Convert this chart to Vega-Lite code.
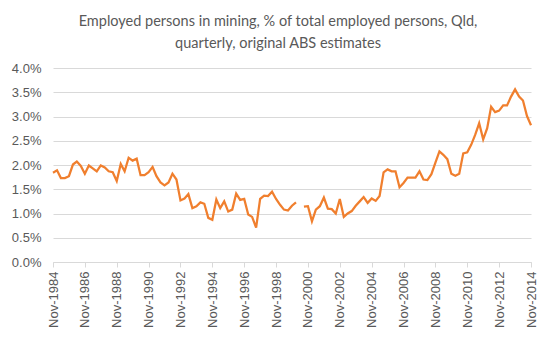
{
  "$schema": "https://vega.github.io/schema/vega-lite/v6.json",
  "width": 478,
  "height": 194,
  "autosize": "none",
  "padding": {"left": 53, "top": 68, "right": 26, "bottom": 93},
  "background": "white",
  "title": {
    "text": ["Employed persons in mining, % of total employed  persons, Qld,", "quarterly, original ABS estimates"],
    "font": "Lato",
    "fontSize": 14.5,
    "fontWeight": "normal",
    "color": "#595959",
    "lineHeight": 22,
    "anchor": "middle",
    "dx": -14,
    "offset": 11
  },
  "config": {"view": {"stroke": null}},
  "data": {
    "values": [
      {"d":"1984-11-01","v":1.84},{"d":"1985-02-01","v":1.89},{"d":"1985-05-01","v":1.73},{"d":"1985-08-01","v":1.73},
      {"d":"1985-11-01","v":1.77},{"d":"1986-02-01","v":2.01},{"d":"1986-05-01","v":2.07},{"d":"1986-08-01","v":1.98},
      {"d":"1986-11-01","v":1.82},{"d":"1987-02-01","v":1.99},{"d":"1987-05-01","v":1.93},{"d":"1987-08-01","v":1.87},
      {"d":"1987-11-01","v":1.99},{"d":"1988-02-01","v":1.95},{"d":"1988-05-01","v":1.87},{"d":"1988-08-01","v":1.85},
      {"d":"1988-11-01","v":1.67},{"d":"1989-02-01","v":2.02},{"d":"1989-05-01","v":1.87},{"d":"1989-08-01","v":2.15},
      {"d":"1989-11-01","v":2.09},{"d":"1990-02-01","v":2.13},{"d":"1990-05-01","v":1.79},{"d":"1990-08-01","v":1.79},
      {"d":"1990-11-01","v":1.85},{"d":"1991-02-01","v":1.96},{"d":"1991-05-01","v":1.77},{"d":"1991-08-01","v":1.64},
      {"d":"1991-11-01","v":1.58},{"d":"1992-02-01","v":1.64},{"d":"1992-05-01","v":1.82},{"d":"1992-08-01","v":1.70},
      {"d":"1992-11-01","v":1.27},{"d":"1993-02-01","v":1.31},{"d":"1993-05-01","v":1.40},{"d":"1993-08-01","v":1.11},
      {"d":"1993-11-01","v":1.15},{"d":"1994-02-01","v":1.23},{"d":"1994-05-01","v":1.20},{"d":"1994-08-01","v":0.91},
      {"d":"1994-11-01","v":0.87},{"d":"1995-02-01","v":1.29},{"d":"1995-05-01","v":1.11},{"d":"1995-08-01","v":1.25},
      {"d":"1995-11-01","v":1.04},{"d":"1996-02-01","v":1.08},{"d":"1996-05-01","v":1.41},{"d":"1996-08-01","v":1.28},
      {"d":"1996-11-01","v":1.30},{"d":"1997-02-01","v":0.98},{"d":"1997-05-01","v":0.93},{"d":"1997-08-01","v":0.71},
      {"d":"1997-11-01","v":1.30},{"d":"1998-02-01","v":1.37},{"d":"1998-05-01","v":1.36},{"d":"1998-08-01","v":1.45},
      {"d":"1998-11-01","v":1.30},{"d":"1999-02-01","v":1.18},{"d":"1999-05-01","v":1.08},{"d":"1999-08-01","v":1.06},
      {"d":"1999-11-01","v":1.16},{"d":"2000-02-01","v":1.23},{"d":"2000-05-01","v":null},{"d":"2000-08-01","v":1.14},
      {"d":"2000-11-01","v":1.15},{"d":"2001-02-01","v":0.84},{"d":"2001-05-01","v":1.08},{"d":"2001-08-01","v":1.15},
      {"d":"2001-11-01","v":1.33},{"d":"2002-02-01","v":1.10},{"d":"2002-05-01","v":1.09},{"d":"2002-08-01","v":1.00},
      {"d":"2002-11-01","v":1.30},{"d":"2003-02-01","v":0.93},{"d":"2003-05-01","v":1.00},{"d":"2003-08-01","v":1.05},
      {"d":"2003-11-01","v":1.16},{"d":"2004-02-01","v":1.25},{"d":"2004-05-01","v":1.34},{"d":"2004-08-01","v":1.22},
      {"d":"2004-11-01","v":1.31},{"d":"2005-02-01","v":1.26},{"d":"2005-05-01","v":1.36},{"d":"2005-08-01","v":1.85},
      {"d":"2005-11-01","v":1.91},{"d":"2006-02-01","v":1.87},{"d":"2006-05-01","v":1.87},{"d":"2006-08-01","v":1.54},
      {"d":"2006-11-01","v":1.63},{"d":"2007-02-01","v":1.74},{"d":"2007-05-01","v":1.74},{"d":"2007-08-01","v":1.74},
      {"d":"2007-11-01","v":1.87},{"d":"2008-02-01","v":1.70},{"d":"2008-05-01","v":1.69},{"d":"2008-08-01","v":1.81},
      {"d":"2008-11-01","v":2.05},{"d":"2009-02-01","v":2.28},{"d":"2009-05-01","v":2.21},{"d":"2009-08-01","v":2.12},
      {"d":"2009-11-01","v":1.82},{"d":"2010-02-01","v":1.78},{"d":"2010-05-01","v":1.82},{"d":"2010-08-01","v":2.24},
      {"d":"2010-11-01","v":2.26},{"d":"2011-02-01","v":2.42},{"d":"2011-05-01","v":2.62},{"d":"2011-08-01","v":2.86},
      {"d":"2011-11-01","v":2.53},{"d":"2012-02-01","v":2.76},{"d":"2012-05-01","v":3.20},{"d":"2012-08-01","v":3.09},
      {"d":"2012-11-01","v":3.12},{"d":"2013-02-01","v":3.23},{"d":"2013-05-01","v":3.23},{"d":"2013-08-01","v":3.41},
      {"d":"2013-11-01","v":3.56},{"d":"2014-02-01","v":3.41},{"d":"2014-05-01","v":3.33},{"d":"2014-08-01","v":3.01},
      {"d":"2014-11-01","v":2.82}
    ]
  },
  "mark": {"type": "line", "color": "#F07F2E", "strokeWidth": 2.25, "invalid": "break-paths-show-domains"},
  "encoding": {
    "x": {
      "field": "d",
      "type": "temporal",
      "scale": {
        "type": "utc",
        "domain": [{"year": 1984, "month": 11, "date": 1, "utc": true}, {"year": 2014, "month": 11, "date": 1, "utc": true}],
        "nice": false
      },
      "axis": {
        "title": null,
        "values": [
          {"year": 1984, "month": 11, "date": 1, "utc": true},
          {"year": 1986, "month": 11, "date": 1, "utc": true},
          {"year": 1988, "month": 11, "date": 1, "utc": true},
          {"year": 1990, "month": 11, "date": 1, "utc": true},
          {"year": 1992, "month": 11, "date": 1, "utc": true},
          {"year": 1994, "month": 11, "date": 1, "utc": true},
          {"year": 1996, "month": 11, "date": 1, "utc": true},
          {"year": 1998, "month": 11, "date": 1, "utc": true},
          {"year": 2000, "month": 11, "date": 1, "utc": true},
          {"year": 2002, "month": 11, "date": 1, "utc": true},
          {"year": 2004, "month": 11, "date": 1, "utc": true},
          {"year": 2006, "month": 11, "date": 1, "utc": true},
          {"year": 2008, "month": 11, "date": 1, "utc": true},
          {"year": 2010, "month": 11, "date": 1, "utc": true},
          {"year": 2012, "month": 11, "date": 1, "utc": true},
          {"year": 2014, "month": 11, "date": 1, "utc": true}
        ],
        "labelExpr": "'Nov-' + utcFormat(datum.value, '%Y')",
        "labelAngle": -90,
        "labelFont": "Liberation Sans",
        "labelFontSize": 13,
        "labelColor": "#595959",
        "labelPadding": 4,
        "labelOverlap": false,
        "labelBound": false,
        "labelFlush": false,
        "grid": false,
        "domainColor": "#d9d9d9",
        "domainWidth": 1,
        "tickColor": "#d9d9d9",
        "tickSize": 5
      }
    },
    "y": {
      "field": "v",
      "type": "quantitative",
      "scale": {"domain": [0, 4], "nice": false},
      "axis": {
        "title": null,
        "values": [0, 0.5, 1, 1.5, 2, 2.5, 3, 3.5, 4],
        "labelExpr": "format(datum.value, '.1f') + '%'",
        "labelFont": "Liberation Sans",
        "labelFontSize": 13,
        "labelColor": "#595959",
        "labelPadding": 12,
        "ticks": false,
        "domain": false,
        "grid": true,
        "gridColor": "#d9d9d9",
        "gridWidth": 1
      }
    }
  }
}
